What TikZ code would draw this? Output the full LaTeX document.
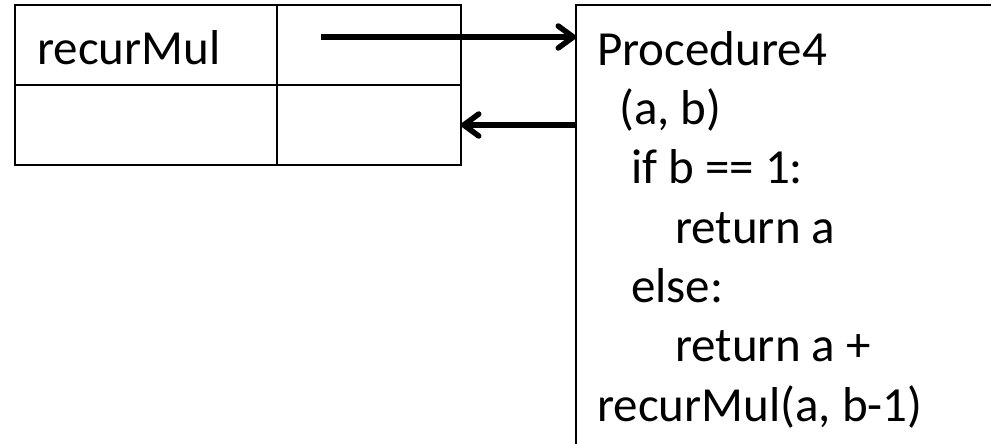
\documentclass[tikz,border=0pt]{standalone}
\usepackage{fontspec}
\setmainfont{Carlito}
\usetikzlibrary{arrows.meta,positioning}

\begin{document}
\begin{tikzpicture}[x=1pt,y=-1pt,
  cell/.style={draw,line width=2.2pt,minimum width=#1,minimum height=80pt,
    inner sep=0pt,outer sep=0pt},
  link/.style={line width=5.5pt,
    -{Straight Barb[length=15pt,width=22pt,line cap=round,line join=round]}},
  big/.style={font=\fontsize{49}{59.3}\selectfont}]
\useasboundingbox (0,0) rectangle (991,444);

% the frame table
\node[cell=262pt,anchor=north west] (name) at (15,5) {};
\node[cell=184pt,right=0pt of name] (value) {};
\node[cell=262pt,below=0pt of name] (name2) {};
\node[cell=184pt,right=0pt of name2] (value2) {};
\node[big,anchor=base west,inner sep=0pt] (namelbl) at (37,65) {recurMul};

% the procedure object
\node[draw,line width=2.2pt,anchor=north west,minimum width=500pt,
  minimum height=500pt,inner sep=0pt,outer sep=0pt] (proc) at (576,5) {};
\node[big,anchor=north west,inner sep=0pt,align=left] (code) at (597,31) {
Procedure4\\
\hspace*{22pt}(a, b)\\
\hspace*{34pt}if b == 1:\\
\hspace*{78pt}return a\\
\hspace*{34pt}else:\\
\hspace*{78pt}return a +\\
recurMul(a, b-1)};

% pointers
\coordinate (ptr) at (321,37);
\draw[link] (ptr) -- (ptr -| proc.west);
\draw[link] (proc.west |- value2) -- (value2.east);
\end{tikzpicture}
\end{document}
